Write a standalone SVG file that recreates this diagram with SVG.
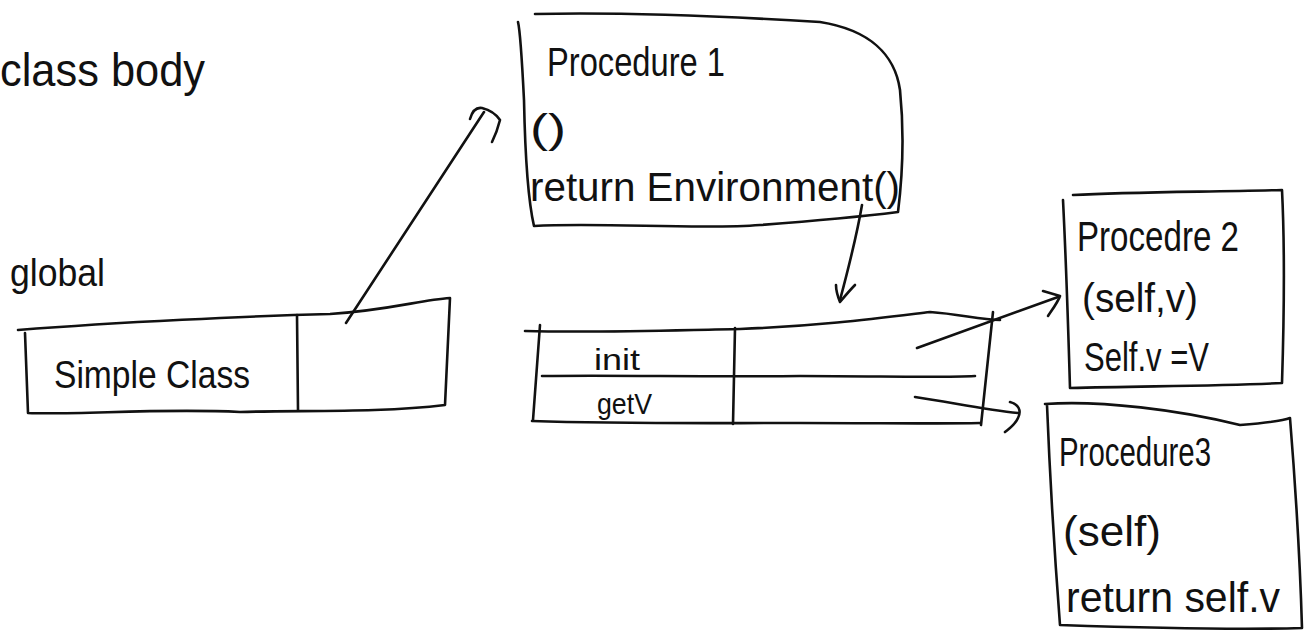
<svg xmlns="http://www.w3.org/2000/svg" width="1314" height="641" viewBox="0 0 1314 641">
<style>
.ln{fill:none;stroke:#111;stroke-width:2.6;stroke-linecap:round;stroke-linejoin:round}
.t{font-family:"Liberation Sans","DejaVu Sans",sans-serif;fill:#111}
</style>
<rect width="1314" height="641" fill="#fff"/>
<text class="t" x="0" y="86" font-size="46" textLength="205" lengthAdjust="spacingAndGlyphs">class body</text>
<g id="global">
<text class="t" x="10" y="286" font-size="38" textLength="95" lengthAdjust="spacingAndGlyphs">global</text>
<path class="ln" d="M18,330 C120,322 250,316 330,314 C390,310 420,300 450,298 L445,405 C380,413 300,410 240,412 C160,408 80,415 28,413 L25,333"/>
<path class="ln" d="M297,315 L298,410"/>
<text class="t" x="54" y="388" font-size="38" textLength="196" lengthAdjust="spacingAndGlyphs">Simple Class</text>
</g>
<g id="procedure1">
<path class="ln" d="M535,14 C620,12 720,16 820,22 C870,30 895,55 900,90 C905,140 902,180 898,212 C850,218 800,222 760,225 C700,230 600,222 534,226 C528,200 525,150 524,100 C522,60 520,30 518,22"/>
<text class="t" x="547" y="76" font-size="40" textLength="178" lengthAdjust="spacingAndGlyphs">Procedure 1</text>
<text class="t" x="530" y="143" font-size="40" textLength="36" lengthAdjust="spacingAndGlyphs">()</text>
<text class="t" x="530" y="201" font-size="40" textLength="370" lengthAdjust="spacingAndGlyphs">return Environment()</text>
</g>
<g id="frame">
<path class="ln" d="M525,331 C600,333 680,330 740,329 C820,326 880,318 930,312 C960,314 980,320 1000,320"/>
<path class="ln" d="M542,376 C620,375 700,377 800,376 C880,376 940,378 975,376"/>
<path class="ln" d="M532,421 C620,424 700,423 800,423 C880,423 940,424 980,423"/>
<path class="ln" d="M540,325 L533,420"/>
<path class="ln" d="M735,328 L733,424"/>
<path class="ln" d="M993,312 L981,425"/>
<text class="t" x="594" y="370" font-size="30" textLength="46" lengthAdjust="spacingAndGlyphs">init</text>
<text class="t" x="597" y="414" font-size="30" textLength="55" lengthAdjust="spacingAndGlyphs">getV</text>
</g>
<g id="procedure2">
<path class="ln" d="M1073,195 C1130,192 1200,192 1282,190 C1285,250 1284,320 1282,383 C1220,386 1150,386 1070,388 C1068,320 1066,260 1063,200"/>
<text class="t" x="1077" y="251" font-size="42" textLength="162" lengthAdjust="spacingAndGlyphs">Procedre 2</text>
<text class="t" x="1082" y="312" font-size="40" textLength="116" lengthAdjust="spacingAndGlyphs">(self,v)</text>
<text class="t" x="1084" y="371" font-size="40" textLength="125" lengthAdjust="spacingAndGlyphs">Self.v =V</text>
</g>
<g id="procedure3">
<path class="ln" d="M1045,404 C1100,400 1180,410 1240,425 C1265,423 1285,420 1290,418 C1295,480 1300,560 1302,628 C1240,630 1150,628 1060,625 C1055,560 1050,480 1047,405"/>
<text class="t" x="1059" y="466" font-size="40" textLength="152" lengthAdjust="spacingAndGlyphs">Procedure3</text>
<text class="t" x="1063" y="546" font-size="42" textLength="98" lengthAdjust="spacingAndGlyphs">(self)</text>
<text class="t" x="1066" y="612" font-size="42" textLength="214" lengthAdjust="spacingAndGlyphs">return self.v</text>
</g>
<g id="connectors">
<path class="ln" d="M346,323 C380,270 420,210 484,112"/>
<path class="ln" d="M470,119 C472,112 476,107 482,108 C490,110 496,114 500,120 C498,128 495,136 492,142"/>
<path class="ln" d="M862,205 C856,240 848,270 840,300"/>
<path class="ln" d="M836,285 C836,292 838,297 840,302 C845,296 850,290 855,285"/>
<path class="ln" d="M917,348 L1058,297"/>
<path class="ln" d="M1043,291 L1060,296 C1058,302 1052,310 1048,316"/>
<path class="ln" d="M915,397 C950,402 985,410 1018,413"/>
<path class="ln" d="M1010,402 C1018,404 1022,410 1018,418 C1015,425 1010,428 1005,432"/>
</g>
</svg>
